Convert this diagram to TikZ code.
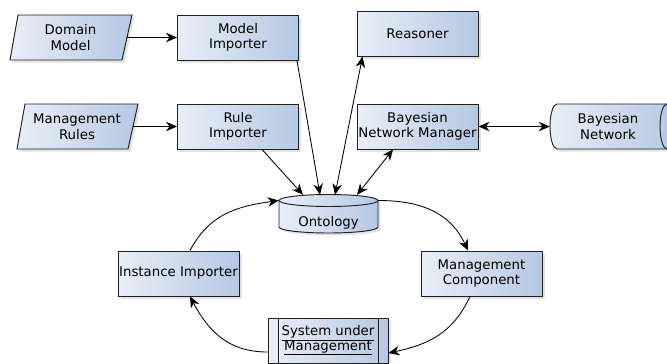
\documentclass[tikz,border=0pt]{standalone}
\usepackage{fontspec}
\setmainfont{DejaVu Sans}
\usetikzlibrary{arrows.meta,shadows}
\definecolor{lightfill}{HTML}{E9EEF7}
\definecolor{darkfill}{HTML}{B5C8E3}
\definecolor{edgecol}{HTML}{202020}
\tikzset{
  shapefill/.style={draw=edgecol, line width=0.95pt, left color=lightfill, right color=darkfill,
    drop shadow={shadow xshift=2.5pt, shadow yshift=-2.5pt, opacity=0.22}},
  box/.style={rectangle, shapefill, minimum width=121pt, minimum height=45pt, inner sep=0.5pt,
    align=center, font=\fontsize{13.3pt}{15.5pt}\selectfont},
  plain/.style={rectangle, draw=none, inner sep=0.5pt, align=center,
    font=\fontsize{13.3pt}{15.5pt}\selectfont},
  arr/.style={line width=0.85pt, draw=black, -{Stealth[length=11pt,width=9.5pt,inset=3.5pt]}},
  arrboth/.style={line width=0.85pt, draw=black, {Stealth[length=11pt,width=9.5pt,inset=3.5pt]}-{Stealth[length=11pt,width=9.5pt,inset=3.5pt]}}
}
\begin{document}
\begin{tikzpicture}[x=1pt,y=1pt]
\useasboundingbox (0,0) rectangle (667,-364);
\clip (0,0) rectangle (667,-364);
% parallelogram shapes
\path[shapefill] (18,-15) -- (132,-15) -- (122,-60) -- (10,-60) -- cycle;
\path[shapefill] (25,-104) -- (138,-104) -- (128,-149) -- (17,-149) -- cycle;
\node[plain, minimum width=113pt, minimum height=45pt] (dm) at (70.5,-37.5) {Domain\\Model};
\node[plain, minimum width=112pt, minimum height=45pt] (mr) at (77,-126.5) {Management\\Rules};
% boxes
\node[box] (mi) at (238,-37.5) {Model\\Importer};
\node[box] (ri) at (238,-126.5) {Rule\\Importer};
\node[box] (rea) at (417.5,-33.5) {Reasoner};
\node[box] (bnm) at (417.5,-126.5) {Bayesian\\Network Manager};
\node[box] (ii) at (178.5,-273.5) {Instance Importer};
\node[box] (mc) at (481.5,-273.5) {Management\\Component};
% Bayesian network cylinder (horizontal)
\path[shapefill] (557,-104) arc[start angle=90,end angle=270,x radius=7,y radius=22.5]
  -- (667,-149) arc[start angle=-90,end angle=90,x radius=7,y radius=22.5] -- cycle;
\draw[edgecol, line width=0.95pt] (667,-104) arc[start angle=90,end angle=270,x radius=7,y radius=22.5];
\node[plain, minimum width=116pt, minimum height=45pt] (bn) at (608,-126.5) {Bayesian\\Network};
% Ontology cylinder (vertical)
\path[shapefill] (279,-200.5) -- (279,-227) arc[start angle=180,end angle=360,x radius=49.5,y radius=6]
  -- (378,-200.5) arc[start angle=0,end angle=180,x radius=49.5,y radius=6] -- cycle;
\draw[edgecol, line width=0.95pt] (279,-200.5) arc[start angle=180,end angle=360,x radius=49.5,y radius=6];
\node[plain, minimum width=99pt, minimum height=38pt, text height=25pt, text depth=0pt] (ont) at (328.5,-214) {Ontology};
% System under Management
\node[box, minimum width=120pt] (sum) at (328,-340.5) {\underline{System under}\\[-1pt]\underline{Management}};
\draw[edgecol, line width=0.95pt] ([xshift=11pt]sum.north west) -- ([xshift=11pt]sum.south west);
\draw[edgecol, line width=0.95pt] ([xshift=-10pt]sum.north east) -- ([xshift=-10pt]sum.south east);
% connectors
\draw[arr] (dm.east) -- (mi.west);
\draw[arr] (mr.east) -- (ri.west);
\draw[arr] ([xshift=-2pt]mi.south east) -- ([xshift=-8.5pt]ont.north);
\draw[arr] ([xshift=24pt]ri.south) -- ([xshift=-25.5pt]ont.north);
\draw[arrboth] ([xshift=6.5pt]ont.north) -- ([xshift=6pt]rea.south west);
\draw[arrboth] ([xshift=28.5pt]ont.north) -- ([xshift=-24.5pt]bnm.south);
\draw[arrboth] (bnm.east) -- (bn.west);
\draw[arr] ([xshift=11.5pt]ii.north) to[out=62,in=188,looseness=1.05] ([yshift=13.5pt]ont.west);
\draw[arr] ([yshift=13.5pt]ont.east) to[out=0,in=115,looseness=1.05] ([xshift=-13.5pt]mc.north);
\draw[arr] ([xshift=-11.5pt]mc.south) to[out=-115,in=12,looseness=1.05] ([yshift=-12.5pt]sum.east);
\draw[arr] ([yshift=-11.5pt]sum.west) to[out=180,in=-62,looseness=1.05] ([xshift=11.5pt]ii.south);
\end{tikzpicture}
\end{document}
